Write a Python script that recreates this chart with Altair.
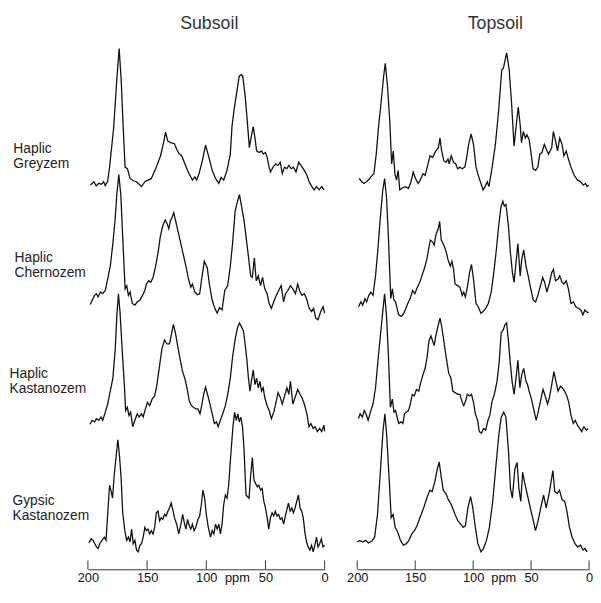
import altair as alt
import pandas as pd

PLOT_W = 512          # drawing width holding both panels
H = 536
LEFT_RANGE = [0, 240]
RIGHT_RANGE = [273, 508]

soils = ["Haplic Greyzem", "Haplic Chernozem", "Haplic Kastanozem", "Gypsic Kastanozem"]
label_lines = [["Haplic", "Greyzem"], ["Haplic", "Chernozem"], ["Haplic", "Kastanozem"], ["Gypsic", "Kastanozem"]]
ticks = [200, 150, 100, 50, 0]

# ---- Subsoil spectra (ppm, relative intensity) ----
sub_grey_ppm = [197.8,195,193,190.8,188.6,186.7,185.3,183.3,181.7,178.3,175.6,173.6,171.9,170.3,168.6,166.7,165.8,164.4,161.7,158.9,156.1,154.7,151.9,149.2,146.4,142.2,138.6,135.8,134.4,132.5,129.7,126.9,125,122.8,120.8,118.1,115.3,111.7,109.7,108.1,106.1,103.3,100.6,97.8,95,92.2,89.4,87.5,85.3,82.5,79.7,78.3,76.4,74.7,72.2,70.6,69.2,67.2,65.8,63.6,62.2,60.3,58.9,57.5,55.3,53.3,51.9,50,48.6,46.9,45.8,43.6,41.4,39.4,37.5,35.8,33.9,31.9,30.3,28.3,26.4,24.2,21.9,20,17.2,15,13.1,10.8,8.9,6.9,4.7,2.5,0.6]
sub_grey_int = [0,3.3,-1,1.7,0.7,3.3,-0.7,4,18.3,58,108,140,108,62,18.3,16.7,13.3,6.7,4.3,3.3,0,-1.7,3.3,5,6.7,18.3,30,45,54.3,45,43.3,42.3,36.7,31.7,30,21.7,13.3,5,8.3,5,11.7,25,41,28.3,15,6.7,1.7,7.7,5,15,31.7,60,78.3,91.7,111.7,113.3,111.7,91.7,71.7,38.3,48.3,60,48.3,35,33.3,35,31.7,33.3,28.3,18.3,13.3,18.3,21.7,20,23.3,11.7,18.3,16.7,20,16.7,18.3,13.3,23.3,20,15,10,3.3,-1.7,-5,-1.7,-5,-1.7,-5]

sub_cher_ppm = [198,196.4,194.4,192.8,191.4,189.4,187.5,185.3,183.3,181.1,178.9,176.9,175.6,173.9,172.2,170.6,168.6,167.2,165.8,164.4,162.5,160.3,158.3,156.1,153.9,151.9,150.6,148.6,146.9,145,142.8,140.8,138.9,136.7,134.7,133,131.7,130.3,128.9,127.5,125.6,122.8,120,117.2,115,113.1,111.7,109.7,107.5,105.6,103.9,101.7,99.2,97.2,95,92.8,90.8,88.9,86.7,84.4,81.9,79.7,77.8,75.6,73.6,72,70,68.1,66.4,64.4,62.5,61.1,59.4,57.8,56.1,54.2,52.5,50.6,48.6,46.9,45,43,40.8,38.9,36.7,34.7,33.1,31.1,28.9,26.9,24.7,22.8,20.8,19.2,17.2,15.3,13.1,11.1,9.4,7.5,5.6,3.3,1.4,0]
sub_cher_int = [-1,3.3,8.3,10,6.7,11.7,10,13.3,25,38.3,61.7,88.3,111.7,132.3,111.7,68.3,15,18.3,8.3,11.7,0,-1.7,1.7,3.3,8.3,13.3,20,23.3,21.7,26.7,38.3,51.7,68.3,80,85.7,81.7,76.7,85,88.3,93.3,83.3,68.3,53.3,38.3,25,16.7,20,11.7,9,10,25,43.3,36.7,18.3,3.3,-5,-10,-4.3,-6.7,13.3,18.3,38.3,61.7,95,105,111.7,98.3,85,68.3,48.3,28.3,26.7,46.7,23.3,28.3,18.3,26.7,15,10,0,-5,1.7,8.3,13.3,18.3,1.7,10,13.3,18.3,15,10,20,11.7,8.3,10,5,-5,-8.3,-5,-15,-16.7,-8.3,-3.3,-10]

sub_kast_ppm = [198.3,196.4,194.4,192.8,190.8,188.9,187.5,185.3,183.3,181.1,178.9,176.9,175.6,174.2,172.8,171.1,169.4,168.1,166.7,165.3,163.9,162.2,160.3,158.3,156.7,154.7,153.3,151.4,149.7,147.8,145.8,143.6,141.7,139.4,137.5,135.3,133.3,131.1,129.7,127.8,126.1,124.2,122.2,120,117.8,115.8,114.4,112.5,110.8,108.9,107,105.3,103.9,102.2,100.6,98.6,96.9,95,93.1,91.4,90,88.1,86.1,83.9,81.9,79.7,77.8,75.6,73.6,72,70.6,68.6,67.2,65.8,64.4,63.1,61.7,60.3,58.9,57.5,56.1,54.7,53.3,51.9,50.6,48.6,46.9,45,43,41.4,39.4,37.5,35.8,33.9,31.9,30.3,28.9,26.9,25,22.8,20.8,19.2,17.2,15,13.3,11.7,9.7,8.1,6.1,4.2,2.5,0.6,0]
sub_kast_int = [-0.7,3.3,1.7,5,3.3,6.7,3.3,11.7,20,33.3,46.7,76.7,110,133.3,113.3,76.7,43.3,13.3,16.7,8.3,11.7,-3.3,3.3,10,6.7,10,6.7,15,21.7,18.3,25,28.3,40,60,76.7,86,81.7,81.7,90,101.7,93.3,80,66.7,53.3,45,33.3,23.3,18.3,16.7,15,15,10,18.3,30,37.3,28.3,20,10,0,1.7,-3.3,3.3,10,18.3,30,46.7,68.3,86.7,98.3,103.3,100,95,81.7,66.7,46.7,33.3,45,55,40,46.7,36.7,43.3,33.3,36.7,26.7,18.3,13.3,5,11.7,20,31.7,26.7,20,28.3,36.7,30,43.3,20,26.7,35,30,26.7,20,10,-3.3,0,-5,-3.3,-8.3,-5,-8.3,-1.7,-8]

sub_gyps_ppm = [199.2,197.2,195.6,194.2,192.8,191.4,190,188.1,186.1,184.7,183.3,181.7,180.3,179.2,177.8,176.4,174.7,173.3,171.9,170.6,168.6,167.2,165.8,164.4,163.1,161.7,160.3,158.9,157.5,156.1,154.7,153.3,151.9,150.6,149.2,147.8,146.4,145,143.6,142.2,140.8,139.4,138.1,136.7,135.3,133.9,132.5,131.1,129.7,128.3,126.9,125,123.3,121.4,120,118.6,117.2,115.8,114.4,113.1,111.7,110.3,108.9,107,105.6,104.2,102.8,101.4,100,98.3,96.4,95,93.6,92.2,90.8,89.4,88.1,86.7,85.3,83.9,82.5,81.1,79.2,77.5,76.1,74.7,73.3,72.2,70.8,69.4,68.1,67.2,66.4,65.3,63.9,62.5,61.1,59.7,58.3,56.9,55.6,54.2,52.8,51.4,50,48.6,47.2,45.8,44.4,43.1,41.7,40.3,38.9,37.5,36.1,34.7,33.3,31.9,30.6,29.2,27.8,26.4,25,23.6,22.2,20.8,19.4,18.1,16.7,15.3,13.9,12.5,11.1,9.7,8.3,6.9,5.6,4.2,2.8,1.4,0]
sub_gyps_int = [-1,3.3,1.7,-1.7,-5,-6.7,-1.7,1.7,5,1.7,28.3,58.3,51.7,45,68.3,85,105,88.3,65,30,10,1.7,5,0,13.3,-1.7,1.7,-8.3,-10,-3.3,-1.7,5,15,11.7,13.3,8.3,11.7,8.3,15,30,31.7,21.7,25,23.3,28.3,26.7,31.7,35,40,33.3,25,18.3,8.3,18.3,28.3,20,13.3,23.3,16.7,13.3,18.3,11.7,15,23.3,26.7,38.3,53.3,45,28.3,15,5,11.7,8.3,18.3,13.3,18.3,8.3,18.3,38.3,48.3,45,58.3,91.7,118.3,133.3,125,131.7,123.3,128.3,118.3,95,68.3,48.3,46.7,45,68.3,86.7,63.3,60,56.7,58.3,53.3,55,41.7,35,25,13.3,25,30,26.7,31.7,26.7,28.3,23.3,25,18.3,26.7,33.3,40,31.7,35,30,35,41.7,48.3,35,31.7,25,10,0,-5,-8.3,-3.3,-10,-3.3,5,-5,-1.7,3.3,-5,-3.3]

# ---- Topsoil spectra ----
top_grey_ppm = [198.3,196.1,194.2,191.9,189.2,187.2,185.6,183.6,181.7,179.4,177.2,175.8,173.9,171.9,170.3,168.9,167.5,166.1,164.7,163.3,161.4,158.6,155.8,153.6,151.7,149.7,147.5,145.6,143.3,141.4,140,137.2,135,132.2,130,128.6,127.2,125.3,123.3,121.7,120.6,118.9,116.9,115,113.3,111.4,109.4,107.2,105.8,103.9,101.7,99.7,97.5,95.6,93.3,91.4,89.7,87.8,86.4,83.6,80.8,78.1,75.3,73.9,71.1,68.9,66.9,64.7,62.8,61.1,59.4,58.3,56.7,55,53.6,51.7,50.3,48.3,46.1,44.2,42.5,40.6,38.6,36.9,35,32.2,30.8,28.9,27.2,25.3,23.3,21.7,19.7,17.8,15.6,12.8,10,7.2,5,3.1,1.7,0.2]
top_grey_int = [5,1.7,0,1.7,5,8.3,10,30,56.7,83.3,110,123.3,100,63.3,20,33.3,10,3.3,13.3,-6.7,-5,-3.3,-5,1.7,11.7,5,0,3.3,10,8.3,15,28.3,26.7,33.3,36.7,46.7,33.3,23.3,21.7,25,20,28.3,21.7,20,15,16.7,15,16.7,25,40,50.7,40,16.7,8.3,0,-6.7,-3.3,1.7,-3.3,16.7,40,73.3,116.7,118.3,134,116.7,83.3,38.3,60,78.3,60,41.7,53.3,46.7,50,45,33.3,15,13.3,16.7,30,31.7,40,35,30,36.7,53.3,43.3,33.3,46.7,40,28.3,33.3,25,16.7,8.3,3.3,1.7,-1.7,0,-3.3,-2]

top_cher_ppm = [198.9,196.9,195.3,193.3,191.9,190,188.3,186.4,184.2,182.2,180.3,178.1,176.4,174.7,173.1,171.1,169.7,168.3,166.9,165.6,164.2,162.2,160.6,158.6,156.4,154.4,152.2,150.3,148.1,146.1,144.2,141.9,140,138.3,136.9,135,133.6,132.2,130.8,130,128.9,127.5,125.3,123.3,121.7,119.7,118.3,116.9,115.6,113.3,111.4,109.4,108.1,106.7,105,103.1,101.4,99.7,97.5,95.6,93.3,91.4,89.2,86.9,84.4,82.2,80.3,78.1,76.1,74.4,73.1,71.7,69.7,67.8,66.1,64.7,63.3,61.4,59.4,58.1,56.4,54.4,52.5,50.3,48.1,46.1,44.2,41.9,40,38.3,36.4,34.4,32.2,30.8,28.9,26.7,25.3,23.3,21.7,19.7,17.8,15.6,13.6,11.4,9.2,7.2,5.3,3.6,2.2,0.5]
top_cher_int = [-1.7,3.3,0,6.7,3.3,10,13.3,10,30,56.7,86.7,116.7,130,110,70,6.7,16.7,5,3.3,-3.3,-10,-11.7,-10,-5,1.7,6.7,15,11.7,18.3,23.3,30,38.3,46.7,58.3,66.7,65,61.7,71.7,76.7,78.3,86,66.7,61.7,55,46.7,40,45,36.7,21.7,20,18.3,10,13.3,8.3,18.3,33.3,41.7,26.7,1.7,-1.7,-8.3,-6.7,-3.3,1.7,13.3,33.3,53.3,80,100,106.7,101.7,103.3,83.3,53.3,33.3,23.3,40,63.3,30,46.7,56.7,40,30,16.7,5,3.3,10,20,28.3,23.3,13.3,21.7,33.3,36.7,25,26.7,30,23.3,21.7,25,16.7,1.7,3.3,-1.7,-3.3,-5,-10,-5,-6.7,-8]

top_kast_ppm = [198.9,197.5,195.6,193.9,191.9,190.6,188.6,186.4,184.2,182.2,180.3,178.1,176.4,174.7,173.1,171.4,169.7,168.3,166.9,165.6,164.2,162.2,160.6,159.2,157.8,155.8,154.2,152.5,150.8,148.9,146.9,145.3,143.3,141.4,139.7,138.1,136.4,135,133.6,132.2,130.3,128.6,127.2,125.3,123.3,121.1,119.2,117.5,115.6,113.3,111.4,109.4,108.1,106.4,105,103.1,101.4,99.7,98.1,96.1,94.7,92.8,91.1,89.2,87.2,85.6,83.6,81.7,79.4,77.5,75.8,73.9,72.5,71.1,69.7,68.3,66.4,64.7,63.3,61.4,59.7,58.1,56.4,54.4,53.1,51.7,49.7,47.5,45.6,43.9,41.9,39.7,37.8,35.8,34.2,32.2,30.3,28.6,26.7,24.7,23.1,21.1,19.2,17.5,15.6,13.6,11.9,10,8.1,6.4,4.4,2.5,0.8]
top_kast_int = [0,5,1.7,8.3,3.3,-1.7,6.7,15,31.7,58.3,81.7,108.3,128.3,105,65,11.7,20,6.7,8.3,1.7,-5,-3.3,-5,5,6.7,8.3,15,25,23.3,30,28.3,36.7,45,51.7,63.3,80,85,80,75,85,95,103.3,95,80,63.3,46.7,41.7,28.3,26.7,25,25,16.7,13.3,18.3,25,23.3,25,16.7,5,-1.7,-13.3,-15,-10,-11.7,-1.7,3.3,18.3,25,38.3,58.3,88.3,91.7,96.7,98.3,81.7,61.7,38.3,25,38.3,60,31.7,45,51.7,38.3,35,28.3,20,8.3,-1.7,6.7,18.3,30,23.3,15,21.7,35,48.3,38.3,28.3,33.3,31.7,28.3,23.3,16.7,3.3,-5,-1.7,-6.7,-10,-13.3,-8.3,-11.7,-10]

top_gyps_ppm = [200,197.8,195.2,192.7,190.4,187.3,185,182.5,179.9,177.7,176.1,174.5,172.3,170.7,169.1,167.2,165,162.7,160.2,157.6,155.4,152.9,150.6,148.4,145.9,142.7,139.5,137.3,135.4,133.1,130.9,129.3,127.7,125.8,123.6,121.3,118.8,115.6,113.1,110.8,108.6,106.7,104.5,102.2,100.3,98.1,95.9,93.3,91.1,88.5,86,83.1,80.6,78,75.8,73.6,71.7,69.4,67.8,66.2,64,62.1,60.5,58.9,57.3,55.7,53.5,51.3,48.7,46.2,44,41.7,39.2,37,34.4,32.8,31.2,29.6,27.4,25.5,23.2,21,19.1,16.9,14.6,12.1,9.9,7.3,5.1,3.5,1.6]
top_gyps_int = [0,1.7,0,1.7,-1,1,5,28.3,75,115,131.7,108.3,61.7,25,28.3,15,10,1.7,-3.3,-1.7,1.7,8.3,11.7,16.7,25,35,46.7,53.3,51.7,61.7,75,82.3,68.3,53.3,50,43.3,38.3,28.3,21.7,18.3,15,16.7,35,46.7,35,15,-1.7,-10,-6.7,1.7,15,41.7,75,108.3,128.3,133.3,128.3,91.7,55,45,75,81.7,55,41.7,71.7,61.7,50,38.3,25,11.7,21.7,35,48.3,35,50,61.7,73.3,51.7,50,53.3,43.3,41.7,31.7,15,5,-1.7,-5,-3.3,-8.3,-6.7,-10]

# baseline of each trace (stack offsets)
sub_offsets = [394.7, 273, 149.7, 28]
top_offsets = [396.3, 271.3, 154.7, 28]

sub_spectra = [(sub_grey_ppm, sub_grey_int), (sub_cher_ppm, sub_cher_int),
               (sub_kast_ppm, sub_kast_int), (sub_gyps_ppm, sub_gyps_int)]
top_spectra = [(top_grey_ppm, top_grey_int), (top_cher_ppm, top_cher_int),
               (top_kast_ppm, top_kast_int), (top_gyps_ppm, top_gyps_int)]


def frame(spectra, offsets):
    rows = []
    for soil, (ppm, inten), off in zip(soils, spectra, offsets):
        for p, v in zip(ppm, inten):
            rows.append({"soil": soil, "ppm": p, "level": v + off})
    return pd.DataFrame(rows)


FONT = "Liberation Sans"
yscale = alt.Scale(domain=[0, 543], nice=False, zero=False)
tick_df = pd.DataFrame({"tick": ticks})

label_x = [-75.6, -74.4, -79.4, -76.5]
label_y = [114, 224, 342, 471]


def panel(df, title, x_range, title_x, ppm_x, with_labels):
    xscale = alt.Scale(domain=[200, 0], range=x_range, nice=False)
    x_axis = alt.Axis(values=ticks, grid=False, ticks=False, domain=True,
                      orient="bottom",
                      domainColor="#333333", domainWidth=1,
                      labelFont=FONT, labelFontSize=13, labelColor="#111111",
                      labelPadding=2, labelFlush=False, labelOverlap=False,
                      title="ppm", titleFont=FONT, titleFontSize=13,
                      titleFontWeight="normal", titleColor="#111111",
                      titleX=ppm_x, titleY=2, titleBaseline="top",
                      titleAlign="center")
    lines = alt.Chart(df).mark_line(color="#111111", strokeWidth=1.3).encode(
        x=alt.X("ppm:Q", scale=xscale, axis=x_axis),
        y=alt.Y("level:Q", scale=yscale, axis=None),
        detail="soil:N",
    )
    tick_marks = alt.Chart(tick_df).mark_rule(color="#333333", strokeWidth=1).encode(
        x=alt.X("tick:Q", scale=xscale, axis=x_axis),
        y=alt.value(H - 9),
        y2=alt.value(H),
    )
    heading = alt.Chart(pd.DataFrame({"panel": [title]})).mark_text(
        align="center", baseline="middle", font=FONT, fontSize=18,
        color="#333333"
    ).encode(text="panel:N", x=alt.value(title_x), y=alt.value(-17))
    layers = [lines, tick_marks, heading]
    if with_labels:
        for soil, txt, lx, ly in zip(soils, label_lines, label_x, label_y):
            layers.append(
                alt.Chart(pd.DataFrame({"soil": [soil]})).mark_text(
                    text=txt, align="left", baseline="alphabetic", font=FONT,
                    fontSize=14, lineHeight=15.5, color="#222222"
                ).encode(x=alt.value(lx), y=alt.value(ly))
            )
    return alt.layer(*layers)


left = panel(frame(sub_spectra, sub_offsets), "Subsoil", LEFT_RANGE, 123, 151, True)
right = panel(frame(top_spectra, top_offsets), "Topsoil", RIGHT_RANGE, 413, 421, False)

chart = alt.layer(left, right).resolve_scale(x="independent").resolve_axis(
    x="independent"
).properties(
    width=PLOT_W, height=H,
    autosize=alt.AutoSizeParams(type="none"),
    padding={"left": 81, "top": 29, "right": 0, "bottom": 17},
    background="white",
).configure_view(stroke=None)

chart.save("out.html", embed_options={"renderer": "svg", "actions": False})
